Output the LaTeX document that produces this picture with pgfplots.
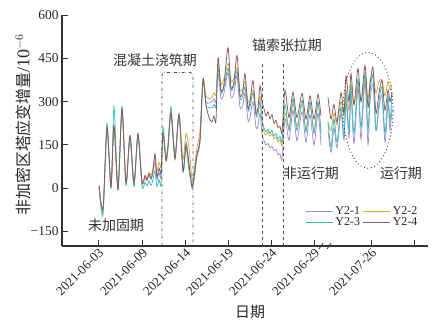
\documentclass[border=0pt]{standalone}
\usepackage{pgfplots}
\pgfplotsset{compat=1.18}
\usepackage{pgfplotstable}
\usepackage{fontspec}
\setmainfont{Liberation Serif}
\newfontfamily\cjk{Noto Sans CJK SC}
\definecolor{cP}{HTML}{A48CCF}
\definecolor{cO}{HTML}{D9A53F}
\definecolor{cC}{HTML}{38BDBD}
\definecolor{cB}{HTML}{8A5A5E}
\definecolor{ax}{HTML}{333333}

\pgfplotstableread{
x y
99 10
103 -70
107 211
111 5
114 218
118 -5
122 276
126 20
130 183
134 17
138 190
142 20
145 45
147 30
149 50
151 35
153 60
155 120
157 40
159 70
161 55
163 190
166 95
168 140
171 263
175 100
179 255
183 60
186 150
189 80
192 5
194 40
197 120
200 170
203 380
206 290
209 245
212 230
214 250
216 235
218 453
221 340
224 360
228 487
231 349
234 370
237 460
240 321
243 340
245 397
248 280
250 300
253 373
256 259
258 280
260 356
262 300
264 276
266 250
268 265
270 240
272 255
274 225
276 235
278 210
280 215
282 195
285 339
289 245
293 332
297 245
302 328
306 240
310 320
314 240
318 325
321 250
325 nan
328 315
331 240
334 290
337 230
341 330
344 260
346 390
349 300
351 397
354 290
358 415
361 300
365 425
368 280
370 360
373 418
376 260
379 330
382 373
385 270
388 340
390 300
392 330
}\dataB

\pgfplotstableread{
x y
99 5
103 -93
107 225
111 0
114 283
118 -5
122 283
126 10
130 175
134 5
138 185
142 5
145 20
147 8
149 25
151 10
153 30
155 60
157 5
159 30
161 15
163 211
166 100
168 150
171 283
175 110
179 259
183 55
186 140
189 60
192 10
194 30
197 110
200 160
203 370
206 285
209 280
212 278
214 290
216 285
218 420
221 330
224 350
228 415
231 340
234 355
237 405
240 310
243 320
245 350
248 270
250 280
253 330
256 250
258 255
260 300
262 230
264 210
266 195
268 205
270 190
272 200
274 180
276 190
278 170
280 180
282 165
285 290
289 200
293 311
297 200
302 305
306 195
310 300
314 190
318 300
321 185
325 nan
328 230
331 142
334 240
337 160
341 280
344 180
346 330
349 200
351 350
354 190
358 380
361 210
365 400
368 200
370 330
373 390
376 200
379 300
382 350
385 190
388 320
390 230
392 330
}\dataC

\pgfplotstableread{
x y
99 8
103 -75
107 200
111 8
114 210
118 0
122 265
126 25
130 180
134 20
138 185
142 25
145 40
147 35
149 55
151 45
153 70
155 110
157 60
159 90
161 75
163 180
166 110
168 150
171 255
175 120
179 250
183 100
186 190
189 140
192 30
194 60
197 140
200 200
203 375
206 320
209 310
212 315
214 330
216 325
218 430
221 360
224 380
228 432
231 370
234 380
237 418
240 340
243 345
245 370
248 300
250 305
253 340
256 270
258 275
260 320
262 250
264 195
266 185
268 195
270 180
272 188
274 170
276 178
278 160
280 168
282 150
285 260
289 211
293 294
297 215
302 290
306 205
310 285
314 200
318 290
321 195
325 nan
328 225
331 200
334 260
337 220
341 300
344 250
346 340
349 270
351 360
354 290
358 370
361 300
365 380
368 310
370 370
373 390
376 330
379 370
382 375
385 320
388 370
390 340
392 360
}\dataO

\pgfplotstableread{
x y
99 5
103 -80
107 205
111 3
114 215
118 -3
122 270
126 18
130 178
134 15
138 185
142 18
145 35
147 25
149 45
151 30
153 55
155 90
157 30
159 55
161 40
163 185
166 95
168 140
171 260
175 105
179 250
183 70
186 160
189 90
192 0
194 30
197 115
200 165
203 372
206 300
209 295
212 300
214 310
216 300
218 400
221 310
224 330
228 400
231 315
234 330
237 390
240 280
243 290
245 330
248 235
250 245
253 300
256 211
258 215
260 260
262 190
264 165
266 150
268 155
270 140
272 145
274 130
276 135
278 115
280 120
282 100
285 240
289 166
293 270
297 165
302 265
306 160
310 255
314 150
318 260
321 150
325 nan
328 200
331 125
334 210
337 140
341 260
344 166
346 300
349 176
351 320
354 155
358 350
361 170
365 370
368 150
370 300
373 360
376 200
379 280
382 320
385 160
388 290
390 200
392 280
}\dataP

\begin{document}
\begin{tikzpicture}
\begin{axis}[
  scale only axis,
  width=366bp, height=231bp,
  xmin=62, xmax=428,
  ymin=-200, ymax=600,
  axis x line=bottom, axis y line=left,
  axis line style={-, line width=1.1pt, ax},
  tick style={line width=0.9pt, ax},
  tick align=inside,
  major tick length=6bp,
  xtick={98,142,185,228,271,314,371,414},
  xticklabels={2021-06-03,2021-06-09,2021-06-14,2021-06-19,2021-06-24,2021-06-29,2021-07-26,{}},
  xticklabel style={rotate=45, anchor=north east, font=\fontsize{13}{13}\selectfont, inner sep=1pt, text=black!85},
  ytick={-150,0,150,300,450,600},
  yticklabels={−150,0,150,300,450,600},
  yticklabel style={font=\fontsize{13.5}{13.5}\selectfont, text=black!85},
  unbounded coords=jump,
  legend columns=2,
  legend style={draw=none, fill=none, at={(rel axis cs:0.985,0.19)}, anchor=north east,
    font=\fontsize{12}{12}\selectfont, row sep=-2bp, text=black!85,
    /tikz/every even column/.append style={column sep=1bp}},
  legend image code/.code={\draw[#1] (0bp,0bp) -- (27bp,0bp);},
  every axis plot/.append style={line width=0.75pt, smooth, tension=0.45},
  clip=false,
]
\addplot[cP] table[x=x,y=y] {\dataP};
\addplot[cO] table[x=x,y=y] {\dataO};
\addplot[cC] table[x=x,y=y] {\dataC};
\addplot[cB] table[x=x,y=y] {\dataB};
\legend{Y2-1,Y2-2,Y2-3,Y2-4}

\coordinate (sw) at (rel axis cs:0,0);
\coordinate (ne) at (rel axis cs:1,1);

\draw[dash dot, line width=0.8pt, black!70, rounded corners=3bp]
  (axis cs:162,-200) -- (axis cs:162,401) -- (axis cs:193,401) -- (axis cs:193,-200);
\draw[dashed, line width=0.8pt, black!70] (axis cs:262,-200) -- (axis cs:262,432);
\draw[dashed, line width=0.8pt, black!70] (axis cs:283,-200) -- (axis cs:283,438);
\draw[line width=1.2pt, dash pattern=on 0.1pt off 3.4bp, line cap=round, black!75]
  (axis cs:368,270) ellipse [x radius=25bp, y radius=58bp];

\node[font=\cjk\fontsize{14}{14}\selectfont, black!80] at (axis cs:116,-128) {未加固期};
\node[font=\cjk\fontsize{14}{14}\selectfont, black!80] at (axis cs:155,442) {混凝土浇筑期};
\node[font=\cjk\fontsize{14}{14}\selectfont, black!80] at (axis cs:287,494) {锚索张拉期};
\node[font=\cjk\fontsize{14}{14}\selectfont, black!80] at (axis cs:311,52) {非运行期};
\node[font=\cjk\fontsize{14}{14}\selectfont, black!80] at (axis cs:401,52) {运行期};

\node[rotate=90, black!85] at ([xshift=-39bp]axis cs:62,220)
  {\cjk\fontsize{16}{16}\selectfont 非加密区塔应变增量\rmfamily\fontsize{18}{18}\selectfont/10$^{-6}$};
\node[black!85, font=\cjk\fontsize{15}{15}\selectfont] at ([yshift=-66bp]axis cs:250,-200) {日期};

\fill[white] (axis cs:321,-200) ++(0,-2bp) rectangle ++(8bp,4bp);
\draw[line width=0.8pt, ax] (axis cs:321,-200) ++(-2bp,-3bp) -- ++(4bp,6bp);
\draw[line width=0.8pt, ax] (axis cs:329,-200) ++(-2bp,-3bp) -- ++(4bp,6bp);
\end{axis}
\pgfresetboundingbox
\path ([shift={(-62bp,-75bp)}]sw) rectangle ([shift={(4bp,15bp)}]ne);
\end{tikzpicture}
\end{document}
